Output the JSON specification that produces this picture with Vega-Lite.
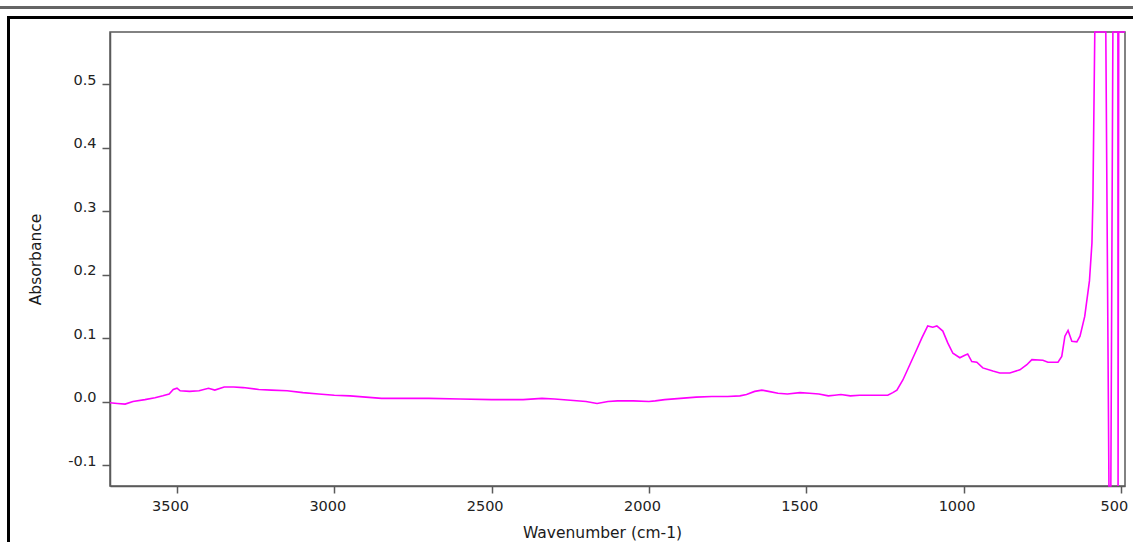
{
  "$schema": "https://vega.github.io/schema/vega-lite/v6.json",
  "width": 1015,
  "height": 454,
  "autosize": "none",
  "padding": {"left": 110, "top": 32, "right": 8, "bottom": 56},
  "background": "white",
  "config": {
    "view": {"stroke": "#5a5a5a", "strokeWidth": 1.5},
    "axis": {
      "grid": false,
      "domainColor": "#5a5a5a",
      "domainWidth": 1.5,
      "tickColor": "#5a5a5a",
      "tickWidth": 1.5,
      "labelFont": "DejaVu Sans",
      "labelFontSize": 14.5,
      "labelColor": "#222222",
      "titleFont": "DejaVu Sans",
      "titleFontSize": 15.5,
      "titleFontWeight": "normal",
      "titleColor": "#1a1a1a"
    }
  },
  "data": {
    "values": [
      {"wn": 3713, "a": -0.002},
      {"wn": 3690, "a": -0.003},
      {"wn": 3665, "a": -0.004},
      {"wn": 3640, "a": 0.0},
      {"wn": 3602, "a": 0.003},
      {"wn": 3570, "a": 0.006},
      {"wn": 3545, "a": 0.009},
      {"wn": 3525, "a": 0.012},
      {"wn": 3512, "a": 0.019},
      {"wn": 3500, "a": 0.021},
      {"wn": 3490, "a": 0.017},
      {"wn": 3460, "a": 0.016},
      {"wn": 3430, "a": 0.017},
      {"wn": 3400, "a": 0.021},
      {"wn": 3380, "a": 0.018},
      {"wn": 3350, "a": 0.023},
      {"wn": 3320, "a": 0.023},
      {"wn": 3290, "a": 0.022},
      {"wn": 3240, "a": 0.019},
      {"wn": 3200, "a": 0.018},
      {"wn": 3150, "a": 0.017},
      {"wn": 3100, "a": 0.014},
      {"wn": 3050, "a": 0.012},
      {"wn": 3000, "a": 0.010},
      {"wn": 2950, "a": 0.009},
      {"wn": 2900, "a": 0.007},
      {"wn": 2850, "a": 0.005},
      {"wn": 2800, "a": 0.005},
      {"wn": 2700, "a": 0.005},
      {"wn": 2600, "a": 0.004},
      {"wn": 2500, "a": 0.003},
      {"wn": 2400, "a": 0.003},
      {"wn": 2340, "a": 0.005},
      {"wn": 2300, "a": 0.004},
      {"wn": 2250, "a": 0.002},
      {"wn": 2200, "a": 0.0},
      {"wn": 2165, "a": -0.003},
      {"wn": 2130, "a": 0.0},
      {"wn": 2100, "a": 0.001},
      {"wn": 2050, "a": 0.001},
      {"wn": 2000, "a": 0.0},
      {"wn": 1980, "a": 0.001},
      {"wn": 1950, "a": 0.003},
      {"wn": 1900, "a": 0.005},
      {"wn": 1850, "a": 0.007},
      {"wn": 1800, "a": 0.008},
      {"wn": 1750, "a": 0.008},
      {"wn": 1711, "a": 0.009},
      {"wn": 1690, "a": 0.011},
      {"wn": 1664, "a": 0.016},
      {"wn": 1641, "a": 0.018},
      {"wn": 1620, "a": 0.016},
      {"wn": 1590, "a": 0.013},
      {"wn": 1560, "a": 0.012},
      {"wn": 1520, "a": 0.014},
      {"wn": 1490, "a": 0.013},
      {"wn": 1460, "a": 0.012},
      {"wn": 1430, "a": 0.009},
      {"wn": 1410, "a": 0.010},
      {"wn": 1390, "a": 0.011},
      {"wn": 1360, "a": 0.009},
      {"wn": 1330, "a": 0.010},
      {"wn": 1280, "a": 0.010},
      {"wn": 1241, "a": 0.010},
      {"wn": 1225, "a": 0.014},
      {"wn": 1212, "a": 0.018},
      {"wn": 1193, "a": 0.034},
      {"wn": 1171, "a": 0.058},
      {"wn": 1149, "a": 0.082},
      {"wn": 1133, "a": 0.100},
      {"wn": 1114, "a": 0.119},
      {"wn": 1098, "a": 0.117},
      {"wn": 1085, "a": 0.119},
      {"wn": 1066, "a": 0.111},
      {"wn": 1050, "a": 0.092},
      {"wn": 1034, "a": 0.076},
      {"wn": 1012, "a": 0.069},
      {"wn": 996, "a": 0.073},
      {"wn": 987, "a": 0.075},
      {"wn": 974, "a": 0.063},
      {"wn": 958, "a": 0.062},
      {"wn": 939, "a": 0.053},
      {"wn": 907, "a": 0.048},
      {"wn": 885, "a": 0.045},
      {"wn": 853, "a": 0.045},
      {"wn": 821, "a": 0.050},
      {"wn": 799, "a": 0.058},
      {"wn": 783, "a": 0.066},
      {"wn": 748, "a": 0.065},
      {"wn": 732, "a": 0.062},
      {"wn": 700, "a": 0.062},
      {"wn": 688, "a": 0.071},
      {"wn": 678, "a": 0.103},
      {"wn": 668, "a": 0.112},
      {"wn": 656, "a": 0.095},
      {"wn": 640, "a": 0.094},
      {"wn": 630, "a": 0.103},
      {"wn": 615, "a": 0.134},
      {"wn": 600, "a": 0.190},
      {"wn": 592, "a": 0.250},
      {"wn": 589, "a": 0.319},
      {"wn": 583, "a": 0.582},
      {"wn": 548, "a": 0.582},
      {"wn": 538, "a": -0.133},
      {"wn": 532, "a": -0.133},
      {"wn": 525.5, "a": 0.582},
      {"wn": 509.6, "a": 0.582},
      {"wn": 509, "a": -0.133},
      {"wn": 507, "a": 0.582},
      {"wn": 487, "a": 0.582}
    ]
  },
  "layer": [
    {
      "mark": {"type": "line", "color": "#ff00ff", "strokeWidth": 1.6, "clip": false},
      "encoding": {
        "x": {
          "field": "wn",
          "type": "quantitative",
          "scale": {"domain": [487, 3713], "reverse": true, "nice": false, "zero": false},
          "axis": {
            "title": "Wavenumber (cm-1)",
            "values": [500, 1000, 1500, 2000, 2500, 3000, 3500],
            "format": "d",
            "tickSize": 7,
            "labelPadding": 6,
            "labelOffset": -7,
            "titlePadding": 13,
            "titleX": 492
          }
        },
        "y": {
          "field": "a",
          "type": "quantitative",
          "scale": {"domain": [-0.133, 0.582], "nice": false, "zero": false},
          "axis": {
            "title": "Absorbance",
            "values": [-0.1, 0, 0.1, 0.2, 0.3, 0.4, 0.5],
            "labelExpr": "replace(format(datum.value, '.1f'), '\u2212', '-')",
            "labelBaseline": "alphabetic",
            "tickSize": 8,
            "labelPadding": 6,
            "titlePadding": 24
          }
        }
      }
    },
    {
      "mark": {"type": "rule", "clip": false, "color": "#000000", "strokeWidth": 3},
      "encoding": {
        "x": {"datum": 4035.6, "type": "quantitative"},
        "y": {"datum": 0.605, "type": "quantitative"},
        "y2": {"datum": -0.3}
      }
    },
    {
      "mark": {"type": "rule", "clip": false, "color": "#000000", "strokeWidth": 3},
      "encoding": {
        "x": {"datum": 4040, "type": "quantitative"},
        "x2": {"datum": 400},
        "y": {"datum": 0.605, "type": "quantitative"}
      }
    },
    {
      "mark": {"type": "rule", "clip": false, "color": "#666666", "strokeWidth": 2},
      "encoding": {
        "x": {"datum": 4070, "type": "quantitative"},
        "x2": {"datum": 400},
        "y": {"datum": 0.621, "type": "quantitative"}
      }
    }
  ]
}
